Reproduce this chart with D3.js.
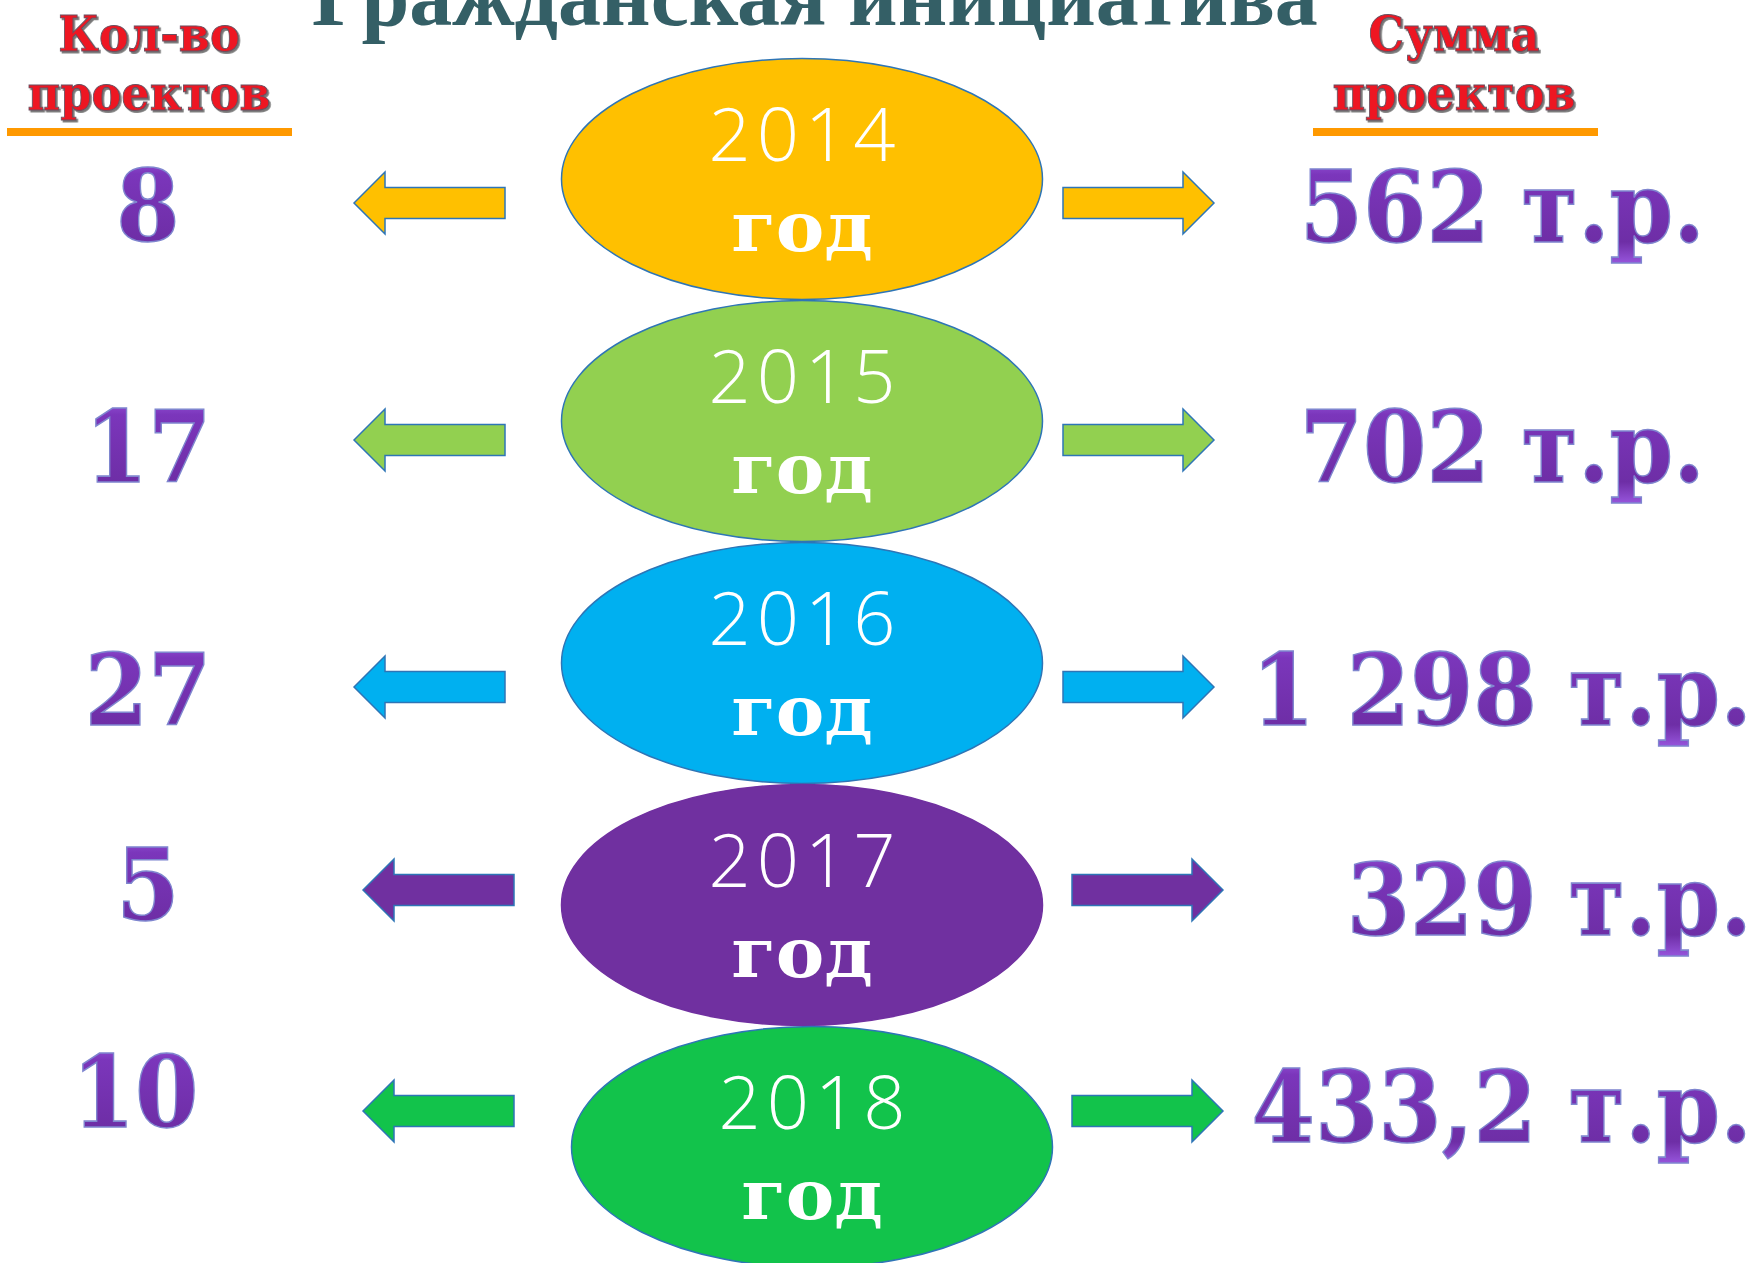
<!DOCTYPE html>
<html>
<head>
<meta charset="utf-8">
<script src="https://cdn.jsdelivr.net/npm/d3@7"></script>
<style>
  body { margin: 0; background: #fff; }
  svg { display: block; }
</style>
</head>
<body>
<svg id="chart"></svg>
<script>
// data
var years = ["2014", "2015", "2016", "2017", "2018"];
var counts = ["8", "17", "27", "5", "10"];
var sums = ["562", "702", "1 298", "329", "433,2"];
var unit = "т.р.";
var yearWord = "год";
var colors = ["#FFC000", "#92D050", "#00B0F0", "#7030A0", "#12C34B"];
var title = "Гражданская инициатива";
var leftHead = ["Кол-во", "проектов"];
var rightHead = ["Сумма", "проектов"];

var width = 1758, height = 1263;

// small hand nudges, the slide is not on a strict grid
var nudge = [
  { ex: 0,  ax: 0, ay: 24,  ny: 38, nx: 0,   sy: 39, sx: 1705 },
  { ex: 0,  ax: 0, ay: 19,  ny: 42, nx: 0,   sy: 42, sx: 1705 },
  { ex: 0,  ax: 0, ay: 24,  ny: 38, nx: 0,   sy: 38, sx: 1752 },
  { ex: 0,  ax: 9, ay: -15, ny: 30, nx: 0,   sy: 45, sx: 1752 },
  { ex: 10, ax: 9, ay: -36, ny: 16, nx: -13, sy: 31, sx: 1752 }
];

var svg = d3.select("#chart")
    .attr("width", width)
    .attr("height", height);

var defs = svg.append("defs");

var grad = defs.append("linearGradient")
    .attr("id", "purp")
    .attr("x1", 0).attr("y1", 0).attr("x2", 0).attr("y2", 1);
grad.append("stop").attr("offset", "0").attr("stop-color", "#a565ea");
grad.append("stop").attr("offset", "0.22").attr("stop-color", "#7b36bb");
grad.append("stop").attr("offset", "0.8").attr("stop-color", "#6e2ea6");
grad.append("stop").attr("offset", "1").attr("stop-color", "#9a58e0");

var shadow = defs.append("filter").attr("id", "shadow")
    .attr("x", "-10%").attr("y", "-10%").attr("width", "120%").attr("height", "130%");
shadow.append("feDropShadow")
    .attr("dx", 2).attr("dy", 2).attr("stdDeviation", 0.8)
    .attr("flood-color", "#555").attr("flood-opacity", 0.8);

var y = d3.scalePoint().domain(years).range([179, 1147]);
var cx = 802, rx = 240.5, ry = 120.5;

// title (cut at the top like the slide)
svg.append("text")
    .attr("x", 815)
    .attr("y", 25)
    .attr("text-anchor", "middle")
    .style("font-family", "'Liberation Serif', 'Times New Roman', serif")
    .style("font-weight", "bold")
    .style("font-size", "86px")
    .style("fill", "#345f66")
    .text(title);

// column headers
function header(lines, x, x0, x1) {
  var g = svg.append("g");
  lines.forEach(function(t, i) {
    g.append("text")
      .attr("transform", "translate(" + x + "," + (i == 0 ? 51 : 110) + ") scale(0.86,0.95)")
      .attr("text-anchor", "middle")
      .style("font-family", "'DejaVu Serif', serif")
      .style("font-weight", "bold")
      .style("font-size", "52px")
      .style("fill", "#ee1520")
      .style("stroke", "#6a5060")
      .style("stroke-width", 1)
      .attr("filter", "url(#shadow)")
      .text(t);
  });
  g.append("rect")
    .attr("x", x0).attr("y", 128)
    .attr("width", x1 - x0).attr("height", 8)
    .style("fill", "#FF9900");
}
header(leftHead, 149, 7, 292);
header(rightHead, 1454, 1313, 1598);

// ellipses
var rows = svg.selectAll("g.row")
  .data(years)
  .enter().append("g")
    .attr("class", "row");

rows.append("ellipse")
    .attr("cx", function(d, i) { return cx + nudge[i].ex; })
    .attr("cy", function(d) { return y(d); })
    .attr("rx", rx)
    .attr("ry", ry)
    .style("fill", function(d, i) { return colors[i]; })
    .style("stroke", function(d, i) { return i == 3 ? colors[i] : "#2E75B6"; })
    .style("stroke-width", 1.5);

rows.append("text")
    .attr("x", function(d, i) { return cx + nudge[i].ex + 3; })
    .attr("y", function(d) { return y(d) - 18; })
    .attr("text-anchor", "middle")
    .style("font-family", "'Open Sans', Lato, sans-serif")
    .style("font-weight", 300)
    .style("font-size", "74px")
    .style("letter-spacing", "6px")
    .style("fill", "#fff")
    .text(function(d) { return d; });

rows.append("text")
    .attr("transform", function(d, i) {
      return "translate(" + (cx + nudge[i].ex) + "," + (y(d) + 72) + ") scale(1.04,1)";
    })
    .attr("text-anchor", "middle")
    .style("font-family", "'DejaVu Serif', serif")
    .style("font-weight", "bold")
    .style("font-size", "70px")
    .style("fill", "#fff")
    .text(yearWord);

// arrows
var line = d3.line();
var hl = 31, hh = 31, sh = 15.5;
function arrow(x0, x1, yy, left) {
  var p;
  if (left) {
    p = [[x0, yy], [x0 + hl, yy - hh], [x0 + hl, yy - sh], [x1, yy - sh],
         [x1, yy + sh], [x0 + hl, yy + sh], [x0 + hl, yy + hh]];
  } else {
    p = [[x1, yy], [x1 - hl, yy - hh], [x1 - hl, yy - sh], [x0, yy - sh],
         [x0, yy + sh], [x1 - hl, yy + sh], [x1 - hl, yy + hh]];
  }
  return line(p) + "Z";
}

rows.append("path")
    .attr("d", function(d, i) {
      return arrow(354 + nudge[i].ax, 505 + nudge[i].ax, y(d) + nudge[i].ay, true);
    })
    .style("fill", function(d, i) { return colors[i]; })
    .style("stroke", "#2E75B6")
    .style("stroke-width", 1.5);

rows.append("path")
    .attr("d", function(d, i) {
      return arrow(1063 + nudge[i].ax, 1214 + nudge[i].ax, y(d) + nudge[i].ay, false);
    })
    .style("fill", function(d, i) { return colors[i]; })
    .style("stroke", "#2E75B6")
    .style("stroke-width", 1.5);

// purple numbers
function purple(sel) {
  sel.style("font-family", "'DejaVu Serif', serif")
    .style("font-weight", "bold")
    .style("font-size", "99px")
    .style("fill", "url(#purp)")
    .style("stroke", "#7f86cf")
    .style("stroke-width", 1.5);
}

rows.append("text")
    .attr("transform", function(d, i) {
      return "translate(" + (148 + nudge[i].nx) + "," + (y(d) + nudge[i].ay + nudge[i].ny) + ") scale(0.92,1)";
    })
    .attr("text-anchor", "middle")
    .call(purple)
    .text(function(d, i) { return counts[i]; });

rows.append("text")
    .attr("transform", function(d, i) {
      return "translate(" + nudge[i].sx + "," + (y(d) + nudge[i].ay + nudge[i].sy) + ") scale(0.92,1)";
    })
    .attr("text-anchor", "end")
    .call(purple)
    .text(function(d, i) { return sums[i] + " " + unit; });
</script>
</body>
</html>
